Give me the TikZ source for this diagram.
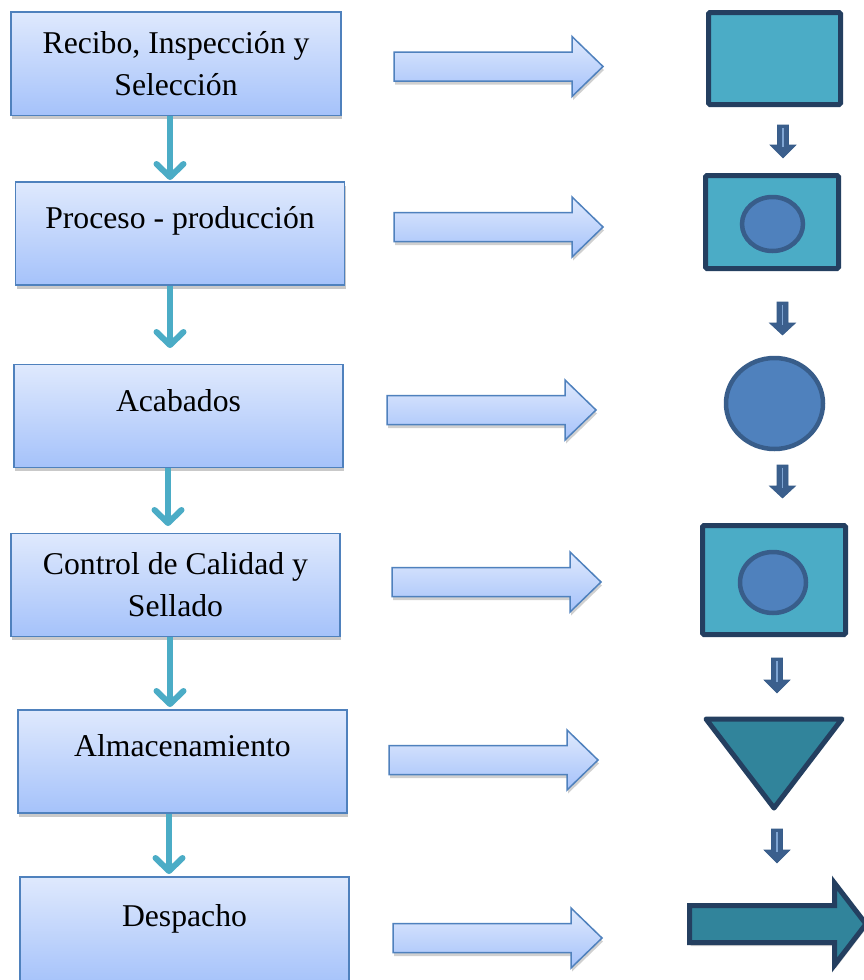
\documentclass[tikz,border=0pt]{standalone}
\usepackage{fontspec}
\setmainfont{Liberation Serif}
\usetikzlibrary{arrows.meta,shadows,calc,shapes.geometric}
\definecolor{boxtop}{HTML}{DFE9FD}
\definecolor{boxbot}{HTML}{A5C2FA}
\definecolor{boxline}{HTML}{4F81BD}
\definecolor{connteal}{HTML}{4BACC6}
\definecolor{shapeteal}{HTML}{4BACC6}
\definecolor{darkteal}{HTML}{31849B}
\definecolor{navyline}{HTML}{243F60}
\definecolor{midblue}{HTML}{4F81BD}
\definecolor{midblueline}{HTML}{385D8A}
\definecolor{smallarrow}{HTML}{3B5F8D}
\definecolor{smallinner}{HTML}{7FA5D3}
\tikzset{
  stepbox/.style={draw=boxline, line width=1.5pt, top color=boxtop, bottom color=boxbot,
    minimum width=329pt, minimum height=103pt, align=center, inner sep=0pt,
    font=\fontsize{31.7}{42}\selectfont,
    drop shadow={shadow xshift=1pt, shadow yshift=-3.5pt, opacity=0.35, fill=black!60}},
  conn/.style={draw=connteal, line width=6pt,
    -{Straight Barb[length=13pt,width=27pt,round]}},
  blockarrow/.style={draw=boxline, line width=1.5pt, top color=boxtop, bottom color=boxbot,
    line join=miter,
    drop shadow={shadow xshift=1pt, shadow yshift=-3.5pt, opacity=0.3, fill=black!60}},
  tealrect/.style={draw=navyline, line width=5pt, fill=shapeteal, rectangle,
    rounded corners=1.5pt, inner sep=0pt},
  blueoval/.style={draw=midblueline, line width=4.5pt, fill=midblue, ellipse, inner sep=0pt},
  downarrow/.style={fill=smallarrow, draw=midblueline, line width=0.6pt},
}
\begin{document}
\begin{tikzpicture}[x=1pt,y=-1pt]
\useasboundingbox (0,0) rectangle (864,980);
\fill[white] (0,0) rectangle (864,980);

% left process boxes
\node[stepbox, minimum width=330pt, minimum height=103.5pt] (b1) at (176,63.5) {Recibo, Inspección y\\Selección};
\node[stepbox] (b2) at (180,233.5) {Proceso - producción\\[-10pt]~};
\node[stepbox] (b3) at (178.5,416) {Acabados\\[-10pt]~};
\node[stepbox] (b4) at (175.5,585) {Control de Calidad y\\Sellado};
\node[stepbox] (b5) at (182.5,761.5) {Almacenamiento\\[-10pt]~};
\node[stepbox, minimum height=108pt] (b6) at (184.5,931) {Despacho\\[-10pt]~};

% connectors between boxes
\coordinate (e1) at (170,180);
\coordinate (e2) at (170,348);
\coordinate (e3) at (168,526);
\coordinate (e4) at (170,707);
\coordinate (e5) at (169,874);
\draw[conn] (b1.south -| e1) -- (e1);
\draw[conn] (b2.south -| e2) -- (e2);
\draw[conn] (b3.south -| e3) -- (e3);
\draw[conn] (b4.south -| e4) -- (e4);
\draw[conn] (b5.south -| e5) -- (e5);

% block arrows (x0, x1 tip, center y)
\newcommand{\blockarr}[3]{%
  \path[blockarrow] (#1,#3-14.5) -- (#2-31,#3-14.5) -- (#2-31,#3-30) -- (#2,#3)
    -- (#2-31,#3+30) -- (#2-31,#3+14.5) -- (#1,#3+14.5) -- cycle;}
\blockarr{394}{603}{66.5}
\blockarr{394}{603}{227}
\blockarr{387}{596}{410}
\blockarr{392}{601}{582}
\blockarr{389}{598}{760}
\blockarr{393}{602}{938}

% right-hand symbols
\node[tealrect, minimum width=132pt, minimum height=92pt] (s1) at (774.5,58.5) {};
\node[tealrect, minimum width=133pt, minimum height=93pt] (s2) at (772,222) {};
\node[blueoval, minimum width=61pt, minimum height=54pt] (o2) at (772.5,224) {};
\node[blueoval, minimum width=97pt, minimum height=91pt] (s3) at (774.5,403.5) {};
\node[tealrect, minimum width=143pt, minimum height=109pt] (s4) at (774,580) {};
\node[blueoval, minimum width=66pt, minimum height=61pt] (o4) at (773,582.5) {};
\draw[draw=navyline, line width=5pt, fill=darkteal, line join=round]
  (706,719) -- (842,719) -- (774,808) -- cycle;
\draw[draw=navyline, line width=5pt, fill=darkteal, line join=miter,
  drop shadow={shadow xshift=1pt, shadow yshift=-3.5pt, opacity=0.3, fill=black!60}]
  (689.5,905.5) -- (834.5,905.5) -- (834.5,883) -- (866,924) -- (834.5,965)
  -- (834.5,942.5) -- (689.5,942.5) -- cycle;

% small down arrows (cx, top, head start, tip)
\newcommand{\smallarr}[4]{%
  \path[downarrow] (#1-5.5,#2) -- (#1+5.5,#2) -- (#1+5.5,#3) -- (#1+13,#3) -- (#1,#4)
    -- (#1-13,#3) -- (#1-5.5,#3) -- cycle;
  \draw[smallinner, line width=1.2pt] (#1,#2+3) -- (#1,#3+2);}
\smallarr{783}{125}{145}{158}
\smallarr{782.5}{302}{323}{335}
\smallarr{782.5}{465}{486}{498}
\smallarr{777}{658}{680}{693}
\smallarr{777}{829}{850}{863}
\end{tikzpicture}
\end{document}
